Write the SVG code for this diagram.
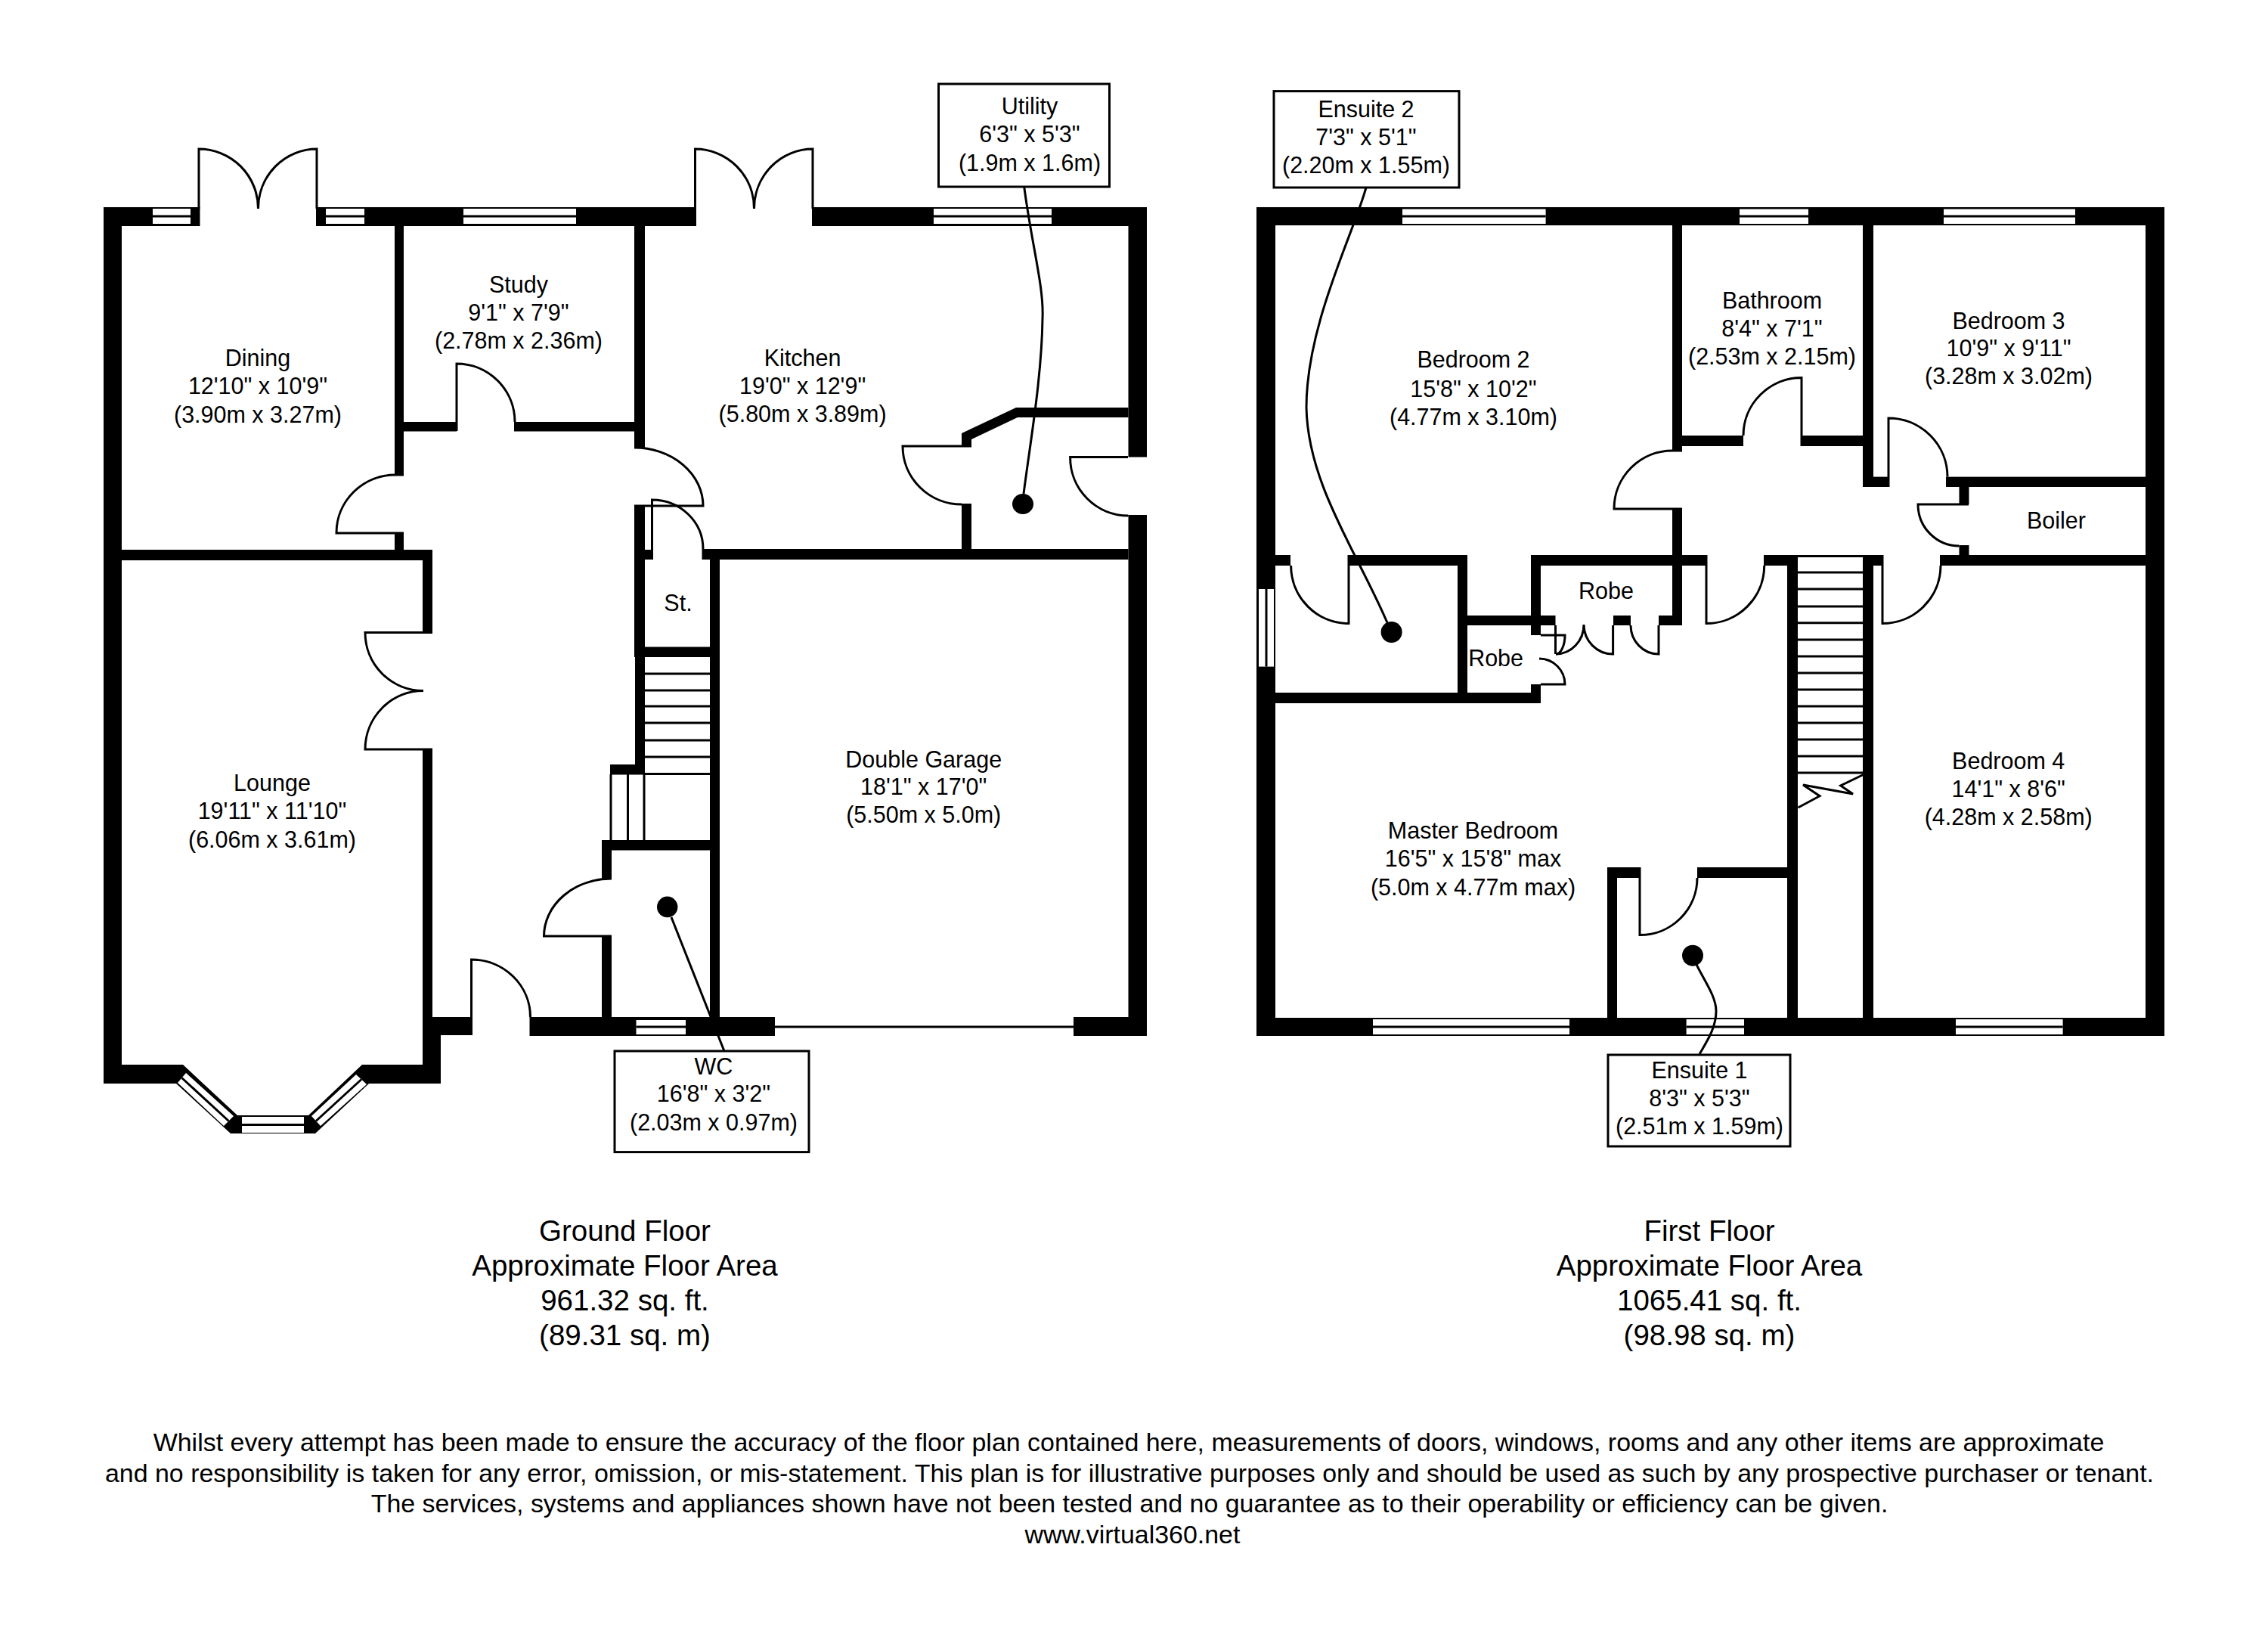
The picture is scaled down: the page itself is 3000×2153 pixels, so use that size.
<svg xmlns="http://www.w3.org/2000/svg" width="3000" height="2153" viewBox="0 0 3000 2153">
<style>
text{font-family:"Liberation Sans",Arial,sans-serif;fill:#000;text-anchor:middle}
.r{font-size:30.5px}
.c{font-size:38.5px}
.d{font-size:33.95px}
.w{fill:#000;stroke:none}
.l{fill:none;stroke:#000;stroke-width:3}
.g{fill:#fff;stroke:none}
.b{fill:#fff;stroke:#000;stroke-width:3}
</style>
<rect width="3000" height="2153" fill="#fff"/>
<g id="ground-floor">
<g id="ground-walls" class="w">
<rect x="137" y="274" width="127.5" height="25"/><rect x="418" y="274" width="503" height="25"/><rect x="1074" y="274" width="443" height="25"/>
<rect x="137" y="274" width="24" height="1159"/>
<rect x="1492.5" y="274" width="24.500" height="330.500"/><rect x="1492.5" y="681" width="24.500" height="689"/>
<rect x="522" y="299" width="12" height="329"/><rect x="522" y="705" width="12" height="36"/>
<rect x="161" y="727" width="411" height="14"/>
<rect x="534" y="558" width="70" height="12.500"/><rect x="680" y="558" width="160" height="12.500"/>
<rect x="839" y="299" width="14" height="293"/><rect x="839" y="669" width="14" height="200"/><rect x="853" y="727" width="11" height="13"/>
<rect x="559" y="727" width="13" height="109.500"/><rect x="559" y="991" width="13" height="378"/>
<polygon points="161,1408 242,1408 314,1475 408,1475 479,1408 559,1408 559,1369 583,1369 583,1433 488,1433 417,1499 305,1499 233,1433 137,1433 137,1408"/>
<rect x="559" y="1345" width="65" height="24"/>
<rect x="700.500" y="1345" width="324.500" height="25"/>
<rect x="1420" y="1345" width="97" height="25"/>
<rect x="853" y="855.500" width="87" height="13.500"/>
<rect x="939" y="740" width="13" height="630"/>
<rect x="928.500" y="726" width="564" height="14"/>
<rect x="840" y="869" width="13" height="142"/><rect x="807" y="1011" width="46" height="13.500"/>
<rect x="796" y="1111" width="144" height="13.500"/>
<rect x="796" y="1111" width="13" height="51"/><rect x="796" y="1238" width="13" height="107"/>
<rect x="1272" y="666" width="13" height="60"/>
<polygon points="1344,539 1492.500,539 1492.500,552 1346,552 1285,581 1285,590 1272,590 1272,573"/>
</g>
<g id="ground-windows">
<rect class="g" x="202" y="276" width="50" height="20"/><path class="l" d="M202 286H252"/>
<rect class="g" x="431" y="276" width="51" height="20"/><path class="l" d="M431 286H482"/>
<rect class="g" x="613" y="276" width="149" height="20"/><path class="l" d="M613 286H762"/>
<rect class="g" x="1235" y="276" width="156" height="20"/><path class="l" d="M1235 286H1391"/>
<rect class="g" x="841.500" y="1349" width="65.500" height="19"/><path class="l" d="M841.500 1358H907"/>
<rect class="g" x="320" y="1477" width="82" height="21"/><path class="l" d="M320 1487.500H402"/>
<polygon class="g" points="246,1419 235,1432 296,1489 309,1476"/><path class="l" d="M240.500 1425.500L302.500 1482.500"/>
<polygon class="g" points="471,1421 485,1434 424,1489 412,1476"/><path class="l" d="M478 1427.500L418 1482.500"/>
<path class="l" d="M1025 1358H1420"/>
</g>
<g id="ground-doors" class="l">
<path d="M263 276V197A78.500 79 0 0 1 341.500 276A77.500 79 0 0 1 419 197V276"/>
<path d="M919.500 276V197A78 79 0 0 1 997.500 276A77.500 79 0 0 1 1075 197V276"/>
<path d="M604 570V481A77 77 0 0 1 681 558"/>
<path d="M534 705H445A78 77 0 0 1 523 628H534"/>
<path d="M839 592A91 77 0 0 1 930 669H839"/>
<path d="M862.500 727V661A67.500 65 0 0 1 930 726"/>
<path d="M572 836.500H483A77 77 0 0 0 560 913.500A77 77.500 0 0 0 483 991H572"/>
<path d="M623.500 1369V1269A78 76 0 0 1 701.500 1345"/>
<path d="M809 1162A89.500 76 0 0 0 719.500 1238H809"/>
<path d="M1285 590H1194A78 77 0 0 0 1272 667"/>
<path d="M1492 604.500H1415.600A77 77 0 0 0 1492.500 682"/>
</g>
<g id="ground-stairs" class="l">
<path d="M853 891H940M853 913H940M853 934H940M853 956H940M853 979H940M853 1001H940M853 1023.500H940"/>
<path d="M808 1024V1111M830.500 1024V1111M852 1024V1111"/>
</g>
<g id="room-dining"><text class="r" x="341" y="484">Dining</text><text class="r" x="341" y="521">12'10" x 10'9"</text><text class="r" x="341" y="558.500">(3.90m x 3.27m)</text></g>
<g id="room-study"><text class="r" x="686" y="386.600">Study</text><text class="r" x="686" y="423.700">9'1" x 7'9"</text><text class="r" x="686" y="460.700">(2.78m x 2.36m)</text></g>
<g id="room-kitchen"><text class="r" x="1061.600" y="483.500">Kitchen</text><text class="r" x="1061.600" y="520.500">19'0" x 12'9"</text><text class="r" x="1061.600" y="557.600">(5.80m x 3.89m)</text></g>
<g id="room-lounge"><text class="r" x="360" y="1046">Lounge</text><text class="r" x="360" y="1083">19'11" x 11'10"</text><text class="r" x="360" y="1121">(6.06m x 3.61m)</text></g>
<g id="room-garage"><text class="r" x="1221.700" y="1014.500">Double Garage</text><text class="r" x="1221.700" y="1051">18'1" x 17'0"</text><text class="r" x="1221.700" y="1088">(5.50m x 5.0m)</text></g>
<g id="room-store"><text class="r" x="897" y="808">St.</text></g>
<g id="room-utility"><rect class="b" x="1241.500" y="111" width="226" height="136"/><text class="r" x="1362" y="151">Utility</text><text class="r" x="1362" y="188">6'3" x 5'3"</text><text class="r" x="1362" y="226">(1.9m x 1.6m)</text></g>
<g id="room-wc"><rect class="b" x="813" y="1390" width="257" height="133.600"/><text class="r" x="944" y="1421">WC</text><text class="r" x="944" y="1457">16'8" x 3'2"</text><text class="r" x="944" y="1495">(2.03m x 0.97m)</text></g>
</g>
<g id="first-floor">
<g id="first-walls" class="w">
<rect x="1662" y="274" width="1201" height="24"/>
<rect x="1662" y="274" width="25" height="1096"/>
<rect x="2838" y="274" width="25" height="1096"/>
<rect x="1662" y="1346" width="1201" height="24"/>
<rect x="2212" y="298" width="13" height="298"/><rect x="2212" y="673" width="13" height="154"/>
<rect x="2464" y="298" width="14" height="346"/><rect x="2478" y="630.600" width="20" height="13.400"/>
<rect x="2225" y="576" width="81" height="14"/><rect x="2383" y="576" width="81" height="14"/>
<rect x="2574" y="630.600" width="264" height="13.400"/>
<rect x="2591.500" y="644" width="13" height="23"/><rect x="2591.500" y="721" width="13" height="13"/>
<rect x="2566" y="734" width="272" height="14"/>
<rect x="2333" y="734" width="45" height="14"/><rect x="2464" y="734" width="26" height="14"/>
<rect x="2364" y="734" width="14" height="612"/><rect x="2464" y="734" width="14" height="612"/>
<rect x="2126" y="1147" width="13" height="199"/><rect x="2126" y="1147" width="43" height="14"/><rect x="2245" y="1147" width="119" height="14"/>
<rect x="1687" y="734" width="20" height="14"/><rect x="1784" y="734" width="157" height="14"/>
<rect x="1928" y="734" width="13" height="196"/><rect x="1687" y="916" width="351" height="14"/><rect x="2025" y="905" width="13" height="25"/>
<rect x="1941" y="814" width="116.500" height="13"/><rect x="2025" y="734" width="13" height="106"/><rect x="2025" y="734" width="232" height="14"/>
<rect x="2134" y="814" width="23" height="13"/><rect x="2194" y="814" width="31" height="13"/>
</g>
<g id="first-windows">
<rect class="g" x="1855" y="276.500" width="189.600" height="19.500"/><path class="l" d="M1855 286H2044.600"/>
<rect class="g" x="2301" y="276.500" width="91" height="19.500"/><path class="l" d="M2301 286H2392"/>
<rect class="g" x="2571" y="276.500" width="174" height="19.500"/><path class="l" d="M2571 286H2745"/>
<rect class="g" x="1816" y="1348" width="260" height="20"/><path class="l" d="M1816 1358H2076"/>
<rect class="g" x="2230.600" y="1348" width="76.400" height="20"/><path class="l" d="M2230.600 1358H2307"/>
<rect class="g" x="2587" y="1348" width="141.600" height="20"/><path class="l" d="M2587 1358H2728.600"/>
<rect class="g" x="1665" y="779" width="20" height="102.600"/><path class="l" d="M1675 779V881.600"/>
</g>
<g id="first-doors" class="l">
<path d="M2225 673H2135A77 77 0 0 1 2212 596H2225"/>
<path d="M2383 590V499.600A77 76.400 0 0 0 2306 576"/>
<path d="M2498 644V553A78 77.600 0 0 1 2576 630.600"/>
<path d="M2604 667H2537A54.500 55 0 0 0 2591.500 722"/>
<path d="M2490 734V824.500A77 76.500 0 0 0 2567 748"/>
<path d="M2257 734V824.600A76.700 76.600 0 0 0 2333.700 748"/>
<path d="M1707.600 748A76.400 76.600 0 0 0 1784 824.600V734"/>
<path d="M2245 1161A76 75.600 0 0 1 2169 1236.600V1147"/>
<path d="M2058 865A37 39 0 0 0 2095 826A38.600 39 0 0 0 2133.600 865V827"/>
<path d="M2157 827A37 38 0 0 0 2194 865V827"/>
<path d="M2036 871A34 34 0 0 1 2070 905H2038"/>
<path d="M2038 840H2070A12 25 0 0 1 2058 865M2057.500 827V865"/>
</g>
<g id="first-stairs" class="l">
<path d="M2378 735.500H2464M2378 757H2464M2378 779H2464M2378 802H2464M2378 823.700H2464M2378 846H2464M2378 868H2464M2378 890H2464M2378 912H2464M2378 934H2464M2378 956H2464M2378 978H2464M2378 1000H2464M2378 1022H2464"/>
<path d="M2378.500 1068L2407 1052.700L2385 1038L2451 1050L2434.700 1039L2464.600 1024.500"/>
</g>
<g id="room-bedroom2"><text class="r" x="1949" y="486">Bedroom 2</text><text class="r" x="1949" y="525">15'8" x 10'2"</text><text class="r" x="1949" y="562">(4.77m x 3.10m)</text></g>
<g id="room-bathroom"><text class="r" x="2344" y="408">Bathroom</text><text class="r" x="2344" y="444.500">8'4" x 7'1"</text><text class="r" x="2344" y="481.600">(2.53m x 2.15m)</text></g>
<g id="room-bedroom3"><text class="r" x="2657" y="434.700">Bedroom 3</text><text class="r" x="2657" y="471.400">10'9" x 9'11"</text><text class="r" x="2657" y="508">(3.28m x 3.02m)</text></g>
<g id="room-boiler"><text class="r" x="2720" y="699">Boiler</text></g>
<g id="room-robe-upper"><text class="r" x="2124.500" y="792">Robe</text></g>
<g id="room-robe-lower"><text class="r" x="1978.600" y="880.500">Robe</text></g>
<g id="room-master"><text class="r" x="1948.500" y="1109">Master Bedroom</text><text class="r" x="1948.500" y="1146">16'5" x 15'8" max</text><text class="r" x="1948.500" y="1184">(5.0m x 4.77m max)</text></g>
<g id="room-bedroom4"><text class="r" x="2656.700" y="1017">Bedroom 4</text><text class="r" x="2656.700" y="1053.600">14'1" x 8'6"</text><text class="r" x="2656.700" y="1090.600">(4.28m x 2.58m)</text></g>
<g id="room-ensuite2"><rect class="b" x="1685" y="120.600" width="245" height="127.400"/><text class="r" x="1807" y="154.500">Ensuite 2</text><text class="r" x="1807" y="192">7'3" x 5'1"</text><text class="r" x="1807" y="229">(2.20m x 1.55m)</text></g>
<g id="room-ensuite1"><rect class="b" x="2127" y="1395" width="241" height="121"/><text class="r" x="2248" y="1426">Ensuite 1</text><text class="r" x="2248" y="1463">8'3" x 5'3"</text><text class="r" x="2248" y="1500">(2.51m x 1.59m)</text></g>
</g>
<g id="connectors">
<path class="l" d="M1354.700 247C1365 325 1381 380 1379 421C1378 500 1362 590 1354 653"/><ellipse cx="1353" cy="666.500" rx="14" ry="13.500"/>
<path class="l" d="M888 1213L958 1390"/><ellipse cx="882.700" cy="1199.400" rx="13.700" ry="13.800"/>
<path class="l" d="M1807 248C1790 310 1728 430 1728 539C1730 640 1795 730 1835 823.500"/><ellipse cx="1840.600" cy="836" rx="14" ry="14"/>
<path class="l" d="M2244 1275.600C2255 1298 2270 1318 2270 1337C2270 1360 2257 1378 2248 1394"/><ellipse cx="2239" cy="1263.700" rx="14" ry="14"/>
</g>
<g id="captions">
<text class="c" x="826.500" y="1641">Ground Floor</text><text class="c" x="826.500" y="1687">Approximate Floor Area</text><text class="c" x="826.500" y="1733">961.32 sq. ft.</text><text class="c" x="826.500" y="1779">(89.31 sq. m)</text>
<text class="c" x="2261" y="1641">First Floor</text><text class="c" x="2261" y="1687">Approximate Floor Area</text><text class="c" x="2261" y="1733">1065.41 sq. ft.</text><text class="c" x="2261" y="1779">(98.98 sq. m)</text>
<text class="d" x="1493" y="1919">Whilst every attempt has been made to ensure the accuracy of the floor plan contained here, measurements of doors, windows, rooms and any other items are approximate</text>
<text class="d" x="1494" y="1960">and no responsibility is taken for any error, omission, or mis-statement. This plan is for illustrative purposes only and should be used as such by any prospective purchaser or tenant.</text>
<text class="d" x="1494" y="2000">The services, systems and appliances shown have not been tested and no guarantee as to their operability or efficiency can be given.</text>
<text class="d" x="1498" y="2041">www.virtual360.net</text>
</g>
</svg>
